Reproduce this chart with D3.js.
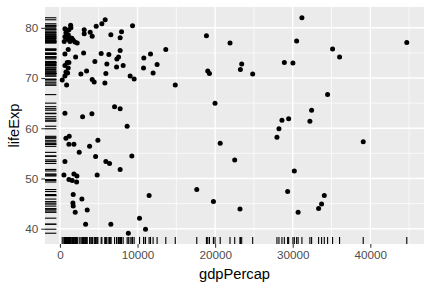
<!DOCTYPE html>
<html>
<head>
<meta charset="utf-8">
<script src="https://cdn.jsdelivr.net/npm/d3@7"></script>
<style>
  body { margin: 0; background: #fff; }
  text { font-family: "Liberation Sans", Arial, sans-serif; }
</style>
</head>
<body>
<svg id="chart" width="432" height="288"></svg>
<script>
// values, one entry per country-year
var gdpPercap = [
  1377, 1416, 644, 1158, 772, 1068, 644, 1287, 991, 553, 1287, 1712, 1931, 2227, 1544,
  1068, 644, 2021, 940, 1158, 644, 1068, 772, 991, 644, 296, 862,
  3127, 3127, 3900, 4157, 4672, 5405, 5830, 9356, 6564, 7941, 7761,
  3050, 5315, 6306, 7761, 7555, 7336, 4505, 6049, 7297, 8147, 3436, 2703, 5920,
  4157, 4414, 5792, 9048, 9562, 13642, 10811, 11673, 10772, 12523, 12008, 14865,
  644, 2921, 4118, 7040, 7761, 8662, 772, 1197, 1158, 1802, 3822, 4891, 2484, 4595,
  9266, 644, 5920, 6396,
  7761, 515, 1802, 2188, 4800, 1158, 1583, 2149, 1712, 2831, 1673, 1712, 3514, 1969,
  11493, 10257, 3308, 6564, 11030, 8816,
  18880, 21918, 30502, 31184, 23423, 23256, 24839, 19048, 19266, 28919, 30026, 19987,
  28610, 29472, 35135, 36036, 44697, 34492, 32432, 32213, 28224, 27966, 20656, 39086,
  22523, 30206, 17632, 19781, 23205, 29344, 30695, 34067, 33719, 33333
];
var lifeExp = [
  80.5, 80.0, 79.8, 79.6, 79.0, 78.6, 78.2, 78.0, 77.7, 77.3, 77.3, 77.5, 77.2, 77.0, 77.9,
  75.7, 74.8, 74.2, 73.1, 73.1, 72.5, 72.0, 71.2, 71.0, 70.4, 69.6, 68.6,
  79.6, 78.8, 79.1, 78.3, 80.3, 80.8, 81.6, 80.4, 78.6, 79.2, 78.0,
  75.0, 74.9, 74.7, 75.5, 74.2, 73.8, 73.3, 72.8, 72.2, 72.5, 71.4, 70.8, 70.9,
  69.7, 69.2, 69.0, 70.4, 69.8, 75.7, 74.0, 74.8, 72.0, 72.7, 71.0, 68.6,
  63.0, 62.3, 62.9, 64.3, 63.9, 60.4, 58.0, 58.4, 56.8, 56.8, 56.4, 57.6, 55.2, 54.4,
  54.5, 53.4, 53.4, 53.0,
  51.8, 50.7, 50.9, 50.5, 50.7, 49.8, 49.6, 49.3, 46.8, 45.9, 45.1, 44.5, 43.7, 43.3,
  46.6, 42.1, 40.9, 40.9, 39.9, 39.1,
  78.4, 77.0, 77.4, 82.0, 72.8, 71.7, 70.8, 71.4, 70.9, 73.1, 73.0, 65.0,
  61.6, 61.9, 75.8, 74.2, 77.1, 66.7, 63.6, 61.4, 59.9, 58.2, 57.0, 57.3,
  53.7, 51.5, 47.8, 45.4, 43.9, 47.4, 43.3, 46.6, 44.9, 44.0
];
var xTicks = [0, 10000, 20000, 30000, 40000];
var xMinor = [5000, 15000, 25000, 35000, 45000];
var yTicks = [40, 50, 60, 70, 80];
var yMinor = [45, 55, 65, 75];

var svg = d3.select("#chart");
var panel = { left: 45, top: 7, right: 424, bottom: 244 };

/**
 * ggplot style range: data extent plus 5% on each side
 */
function expand(vals) {
    var ext = d3.extent(vals);
    var pad = (ext[1] - ext[0]) * 0.05;
    return [ext[0] - pad, ext[1] + pad];
}

var x = d3.scaleLinear().domain(expand(gdpPercap)).range([panel.left, panel.right]);
var y = d3.scaleLinear().domain(expand(lifeExp)).range([panel.bottom, panel.top]);

var pts = gdpPercap.map(function (g, i) { return { g: g, l: lifeExp[i] }; });

svg.append("rect").attr("width", 432).attr("height", 288).attr("fill", "#fff");
svg.append("rect")
    .attr("x", panel.left).attr("y", panel.top)
    .attr("width", panel.right - panel.left).attr("height", panel.bottom - panel.top)
    .attr("fill", "#EBEBEB");

// grid, minor first then major
var grid = svg.append("g").attr("stroke", "#fff").attr("fill", "none");
grid.selectAll(".vmin").data(xMinor.filter(function (v) { return x(v) < panel.right; }))
    .enter().append("line")
    .attr("x1", x).attr("x2", x).attr("y1", panel.top).attr("y2", panel.bottom)
    .attr("stroke-width", 0.7);
grid.selectAll(".hmin").data(yMinor).enter().append("line")
    .attr("y1", y).attr("y2", y).attr("x1", panel.left).attr("x2", panel.right)
    .attr("stroke-width", 0.7);
grid.selectAll(".vmaj").data(xTicks).enter().append("line")
    .attr("x1", x).attr("x2", x).attr("y1", panel.top).attr("y2", panel.bottom)
    .attr("stroke-width", 1.4);
grid.selectAll(".hmaj").data(yTicks).enter().append("line")
    .attr("y1", y).attr("y2", y).attr("x1", panel.left).attr("x2", panel.right)
    .attr("stroke-width", 1.4);

// rugs
var rugX = (panel.right - panel.left) * 0.03;
var rugY = (panel.bottom - panel.top) * 0.03;
var rug = svg.append("g").attr("stroke", "#000").attr("stroke-width", 1.1);
rug.selectAll(".rl").data(pts).enter().append("line")
    .attr("x1", panel.left).attr("x2", panel.left + rugX)
    .attr("y1", function (d) { return y(d.l); }).attr("y2", function (d) { return y(d.l); });
rug.selectAll(".rb").data(pts).enter().append("line")
    .attr("y1", panel.bottom).attr("y2", panel.bottom - rugY)
    .attr("x1", function (d) { return x(d.g); }).attr("x2", function (d) { return x(d.g); });

// points
svg.append("g").selectAll("circle").data(pts).enter().append("circle")
    .attr("cx", function (d) { return x(d.g); })
    .attr("cy", function (d) { return y(d.l); })
    .attr("r", 2.5)
    .attr("fill", "#000");

// axes
var xAxis = svg.append("g")
    .attr("transform", "translate(0," + panel.bottom + ")")
    .call(d3.axisBottom(x).tickValues(xTicks).tickFormat(d3.format("d")).tickSizeOuter(0).tickSize(3.7).tickPadding(3));
var yAxis = svg.append("g")
    .attr("transform", "translate(" + panel.left + ",0)")
    .call(d3.axisLeft(y).tickValues(yTicks).tickSizeOuter(0).tickSize(3.7).tickPadding(3));

[xAxis, yAxis].forEach(function (a) {
    a.select(".domain").remove();
    a.selectAll(".tick line").attr("stroke", "#333").attr("stroke-width", 1.07);
    a.selectAll(".tick text").attr("fill", "#4D4D4D")
        .style("font-family", "'Liberation Sans', Arial, sans-serif")
        .style("font-size", "11.7px");
});

svg.append("text")
    .attr("x", (panel.left + panel.right) / 2).attr("y", 278.5)
    .attr("text-anchor", "middle")
    .style("font-size", "14.7px")
    .text("gdpPercap");

svg.append("text")
    .attr("transform", "translate(19," + (panel.top + panel.bottom) / 2 + ") rotate(-90)")
    .attr("text-anchor", "middle")
    .style("font-size", "14.7px")
    .text("lifeExp");
</script>
</body>
</html>
